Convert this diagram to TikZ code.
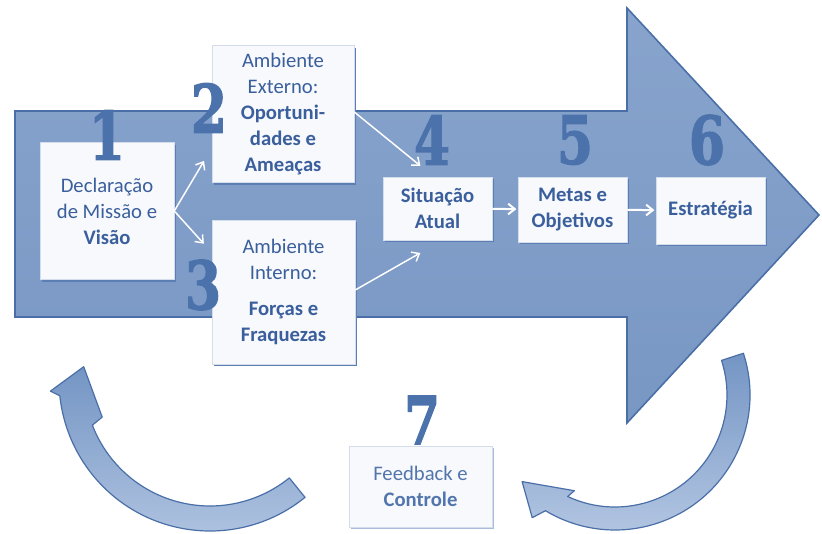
\documentclass[tikz,border=0pt]{standalone}
\usepackage{fontspec}
\setmainfont{Carlito}
\newfontfamily\digitfont[BoldFeatures={FakeBold=2}]{DejaVu Serif}
\usepackage{graphicx}
\usetikzlibrary{arrows.meta,calc,shadows}

\definecolor{arrowtop}{HTML}{88A4CD}
\definecolor{arrowbot}{HTML}{7897C3}
\definecolor{arrowedge}{HTML}{4A6FA8}
\definecolor{boxfill}{HTML}{F7F9FC}
\definecolor{boxedge}{HTML}{D3DDEB}
\definecolor{boxshade}{HTML}{5C7EB3}
\definecolor{softshade}{HTML}{A9BCDB}
\definecolor{textblue}{HTML}{3A5F9C}
\definecolor{softtext}{HTML}{5275AD}
\definecolor{digitblue}{HTML}{4C72AB}
\definecolor{curvedark}{HTML}{7495C4}
\definecolor{curvelight}{HTML}{B3C6E2}

\begin{document}
\begin{tikzpicture}[x=0.75pt, y=-0.75pt,
    panel/.style={rectangle, fill=boxfill, draw=boxedge, line width=0.4pt, align=center,
        text=textblue, font=\fontsize{15.5}{19.5}\selectfont},
    box/.style={panel, drop shadow={shadow xshift=1.6pt, shadow yshift=-1.6pt, fill=boxshade, opacity=1}},
    softbox/.style={panel, text=softtext, drop shadow={shadow xshift=1.6pt, shadow yshift=-1.6pt, fill=softshade, opacity=1}},
    digit/.style={text=digitblue, font=\digitfont\bfseries\fontsize{50}{50}\selectfont, inner sep=0pt},
    link/.style={draw=white, line width=1.1pt, -{Straight Barb[length=5pt,width=8pt]}, shorten >=1pt},
    loopshape/.style={top color=curvedark, bottom color=curvelight, draw=arrowedge, line width=0.9pt, line join=round}]

    \useasboundingbox (0,0) rectangle (822,534);

    % big arrow
    \draw[top color=arrowtop, bottom color=arrowbot, draw=arrowedge, line width=1.2pt]
        (15,111) -- (627,111) -- (627,8) -- (819,215) -- (627,423) -- (627,317) -- (15,317) -- cycle;

    % return arrows
    \coordinate (cl) at (210,380);
    \draw[loopshape] ($(cl)+(51:151)$) arc[start angle=51, end angle=174, radius=151]
        -- ($(cl)+(176:160)$) -- ($(cl)+(186:127)$) -- ($(cl)+(161:114)$) -- ($(cl)+(159:126)$)
        arc[start angle=159, end angle=51, radius=126] -- cycle;
    \coordinate (cr) at (615,395);
    \draw[loopshape] ($(cr)+(-18:135)$) arc[start angle=-18, end angle=121, radius=135]
        -- ($(cr)+(124:148)$) -- ($(cr)+(137:127)$) -- ($(cr)+(113:104)$) -- ($(cr)+(115:112)$)
        arc[start angle=115, end angle=-18, radius=112] -- cycle;

    % boxes
    \node[box, minimum width=100.5pt, minimum height=102.75pt] (b1) at (107,211)
        {Declaração\\de Missão e\\\textbf{Visão}};
    \node[box, minimum width=106.5pt, minimum height=102.75pt] (b2) at (283,114)
        {Ambiente\\Externo:\\\textbf{Oportuni-}\\\textbf{dades e}\\\textbf{Ameaças}};
    \node[box, minimum width=107.25pt, minimum height=108pt] (b3) at (283.5,292)
        {Ambiente\\Interno:\\[8pt]\textbf{Forças e}\\\textbf{Fraquezas}};
    \node[box, minimum width=81.75pt, minimum height=47.25pt] (b4) at (437.5,208.5)
        {\textbf{Situação}\\\textbf{Atual}};
    \node[box, minimum width=81.75pt, minimum height=48.75pt] (b5) at (572.5,209.5)
        {\textbf{Metas e}\\\textbf{Objetivos}};
    \node[box, minimum width=81.75pt, minimum height=50.25pt] (b6) at (710.5,210.5)
        {\textbf{Estratégia}};
    \node[softbox, minimum width=107.25pt, minimum height=60.75pt] (b7) at (420.5,486.5)
        {Feedback e\\\textbf{Controle}};

    % step numbers
    \node[digit] (n1) at (107,135) {\scalebox{0.78}[1]{1}};
    \node[digit] (n2) at (209,108) {\scalebox{0.78}[1]{2}};
    \node[digit] (n3) at (203,285) {\scalebox{0.78}[1]{3}};
    \node[digit] (n4) at (432,140) {\scalebox{0.78}[1]{4}};
    \node[digit] (n5) at (575,140) {\scalebox{0.78}[1]{5}};
    \node[digit] (n6) at (707,140) {\scalebox{0.78}[1]{6}};
    \node[digit] (n7) at (422,420) {\scalebox{0.78}[1]{7}};

    % links
    \draw[link] (b1.east) -- ($(b2.south west)+(-7,-23)$);
    \draw[link] (b1.east) -- ($(b3.north west)+(-7,25)$);
    \draw[link] ($(b2.east)+(0,-2)$) -- ($(b4.north)+(-16,-10)$);
    \draw[link] ($(b3.east)+(0,-2)$) -- ($(b4.south)+(-16,12)$);
    \draw[link, line width=1.5pt] (b4) -- (b5);
    \draw[link, line width=1.5pt] (b5) -- (b6);
\end{tikzpicture}
\end{document}
